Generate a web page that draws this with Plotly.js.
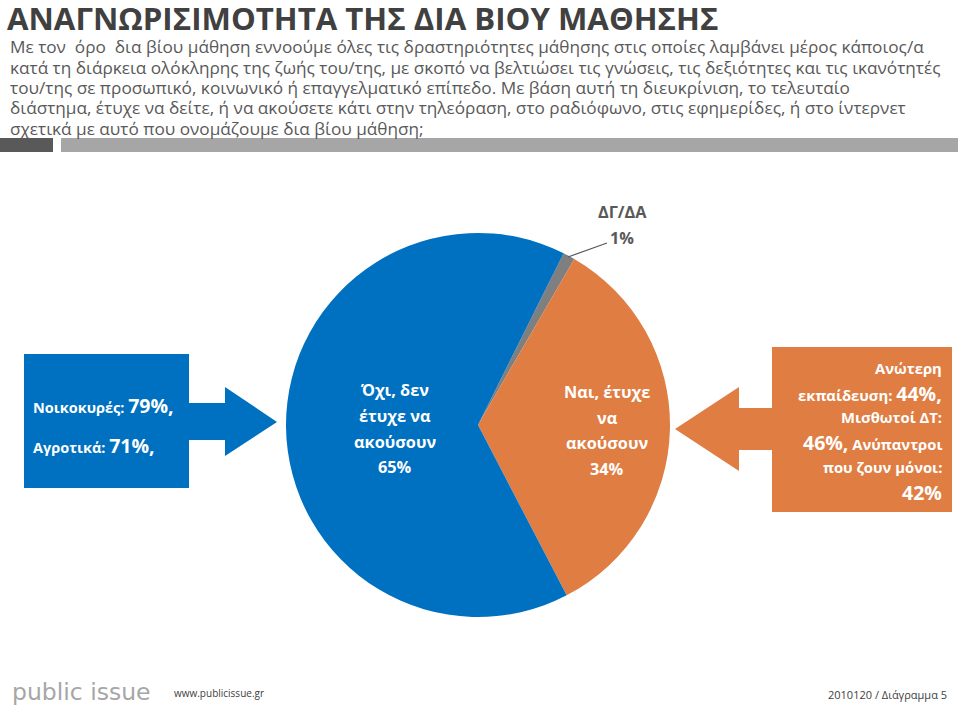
<!DOCTYPE html>
<html>
<head>
<meta charset="utf-8">
<script src="https://cdn.plot.ly/plotly-3.0.1.min.js"></script>
<style>
html,body{margin:0;padding:0;background:#fff;}
#chart{width:960px;height:707px;}
</style>
</head>
<body>
<div id="chart"></div>
<script>
// ---- data ----
const pieCategories = ['ΔΓ/ΔΑ', 'Ναι, έτυχε να ακούσουν', 'Όχι, δεν έτυχε να ακούσουν'];
const pieValues = [1, 34, 65];
const pieLabelLines = [['ΔΓ/ΔΑ'], ['Ναι, έτυχε', 'να', 'ακούσουν'], ['Όχι, δεν', 'έτυχε να', 'ακούσουν']];
const leftGroups = ['Νοικοκυρές', 'Αγροτικά'];
const leftValues = [79, 71];
const rightGroups = ['Ανώτερη εκπαίδευση', 'Μισθωτοί ΔΤ', 'Ανύπαντροι που ζουν μόνοι'];
const rightValues = [44, 46, 42];
const titleText = 'ΑΝΑΓΝΩΡΙΣΙΜΟΤΗΤΑ ΤΗΣ ΔΙΑ ΒΙΟΥ ΜΑΘΗΣΗΣ';
const subtitleLines = [
  'Με τον  όρο  δια βίου μάθηση εννοούμε όλες τις δραστηριότητες μάθησης στις οποίες λαμβάνει μέρος κάποιος/α',
  'κατά τη διάρκεια ολόκληρης της ζωής του/της, με σκοπό να βελτιώσει τις γνώσεις, τις δεξιότητες και τις ικανότητές',
  'του/της σε προσωπικό, κοινωνικό ή επαγγελματικό επίπεδο. Με βάση αυτή τη διευκρίνιση, το τελευταίο',
  'διάστημα, έτυχε να δείτε, ή να ακούσετε κάτι στην τηλεόραση, στο ραδιόφωνο, στις εφημερίδες, ή στο ίντερνετ',
  'σχετικά με αυτό που ονομάζουμε δια βίου μάθηση;'
];
const footerLogo = 'public issue';
const footerUrl = 'www.publicissue.gr';
const footerRef = '2010120 / Διάγραμμα 5';

// ---- styles ----
const pieColors = ['#7f7f7f', '#df7d43', '#0070c0'];
const W = 960, H = 707;
const FONT = 'Open Sans, Noto Sans, sans-serif';
const px = x => x / W;
const py = y => 1 - y / H;
function path(pts){ return 'M' + pts.map(p => px(p[0]) + ',' + py(p[1])).join('L') + 'Z'; }

const shapes = [];
const annotations = [];
function ann(text, x, y, opts){
  annotations.push(Object.assign({text:text, x:px(x), y:py(y), xref:'paper', yref:'paper', showarrow:false,
    xanchor:'left', yanchor:'middle', font:{family:FONT, size:16, color:'#595959'}, borderpad:0}, opts||{}));
}

// header bars
shapes.push({type:'rect', xref:'paper', yref:'paper', x0:px(0), x1:px(53), y0:py(152), y1:py(138), fillcolor:'#595959', line:{width:0}, layer:'below'});
shapes.push({type:'rect', xref:'paper', yref:'paper', x0:px(61), x1:px(958), y0:py(152), y1:py(138), fillcolor:'#a6a6a6', line:{width:0}, layer:'below'});

// left blue arrow callout
shapes.push({type:'path', xref:'paper', yref:'paper', path:path([[24,354],[189,354],[189,403],[225,403],[225,387],[277,422],[225,456],[225,440],[189,440],[189,488],[24,488]]), fillcolor:pieColors[2], line:{width:0}});
// right orange arrow callout
shapes.push({type:'path', xref:'paper', yref:'paper', path:path([[772,347],[952,347],[952,512],[772,512],[772,450],[739,450],[739,471],[675,429],[739,387],[739,408],[772,408]]), fillcolor:pieColors[1], line:{width:0}});
// leader line for DK/NA
shapes.push({type:'line', xref:'paper', yref:'paper', x0:px(568), y0:py(257), x1:px(607), y1:py(243), line:{color:'#595959', width:1.2}});

// title + subtitle
ann('<b>' + titleText + '</b>', 6, 17.5, {font:{family:FONT, size:31.2, color:'#404040'}});
const subY = [46.5, 67, 87.5, 108, 128.5];
subtitleLines.forEach((t,i) => ann(t, 9, subY[i], {font:{family:FONT, size:17.2, color:'#595959'}}));

// callout texts
const big = s => '<span style="font-size:19.5px">' + s + '</span>';
ann('<b>' + leftGroups[0] + ': ' + big(leftValues[0] + '%,') + '</b>', 32, 406, {font:{family:FONT, size:14.5, color:'#ffffff'}});
ann('<b>' + leftGroups[1] + ': ' + big(leftValues[1] + '%,') + '</b>', 32, 445, {font:{family:FONT, size:14.5, color:'#ffffff'}});
const rw = rightGroups[2].split(' ');
const rightLines = [
  rightGroups[0].split(' ')[0],
  rightGroups[0].split(' ')[1] + ': ' + big(rightValues[0] + '%,'),
  rightGroups[1] + ':',
  big(rightValues[1] + '%,') + ' ' + rw[0],
  rw.slice(1).join(' ') + ':',
  big(rightValues[2] + '%')
];
const rightY = [368, 393, 417, 442, 467, 492];
rightLines.forEach((t,i) => ann('<b>' + t + '</b>', 943, rightY[i], {xanchor:'right', font:{family:FONT, size:14.8, color:'#ffffff'}}));

// pie labels
const noY = [390, 416, 442, 467];
pieLabelLines[2].concat([pieValues[2] + '%']).forEach((t,i) => ann('<b>' + t + '</b>', 395, noY[i], {xanchor:'center', font:{family:FONT, size:16.3, color:'#ffffff'}}));
const yesY = [392, 418, 443, 469];
pieLabelLines[1].concat([pieValues[1] + '%']).forEach((t,i) => ann('<b>' + t + '</b>', 607, yesY[i], {xanchor:'center', font:{family:FONT, size:16.3, color:'#ffffff'}}));
ann('<b>' + pieLabelLines[0][0] + '</b>', 622, 212, {xanchor:'center', font:{family:FONT, size:16.3, color:'#595959'}});
ann('<b>' + pieValues[0] + '%</b>', 622, 238, {xanchor:'center', font:{family:FONT, size:16.3, color:'#595959'}});

// footer
ann(footerLogo, 11, 692, {font:{family:'DejaVu Sans, sans-serif', size:23.5, color:'#a6a6a6'}});
ann(footerUrl, 173, 693, {font:{family:FONT, size:10, color:'#404040'}});
ann(footerRef, 948, 694, {xanchor:'right', font:{family:FONT, size:11, color:'#404040'}});

const trace = {
  type:'pie', labels:pieCategories, values:pieValues, sort:false, direction:'clockwise', rotation:26.5,
  marker:{colors:pieColors, line:{width:0}}, textinfo:'none', hoverinfo:'label+percent',
  domain:{x:[px(286), px(670)], y:[py(617), py(233)]}
};
const layout = {
  width:W, height:H, margin:{l:0,r:0,t:0,b:0}, paper_bgcolor:'#ffffff', plot_bgcolor:'#ffffff',
  showlegend:false, shapes:shapes, annotations:annotations
};
Plotly.newPlot('chart', [trace], layout, {displayModeBar:false, staticPlot:true});
</script>
</body>
</html>
